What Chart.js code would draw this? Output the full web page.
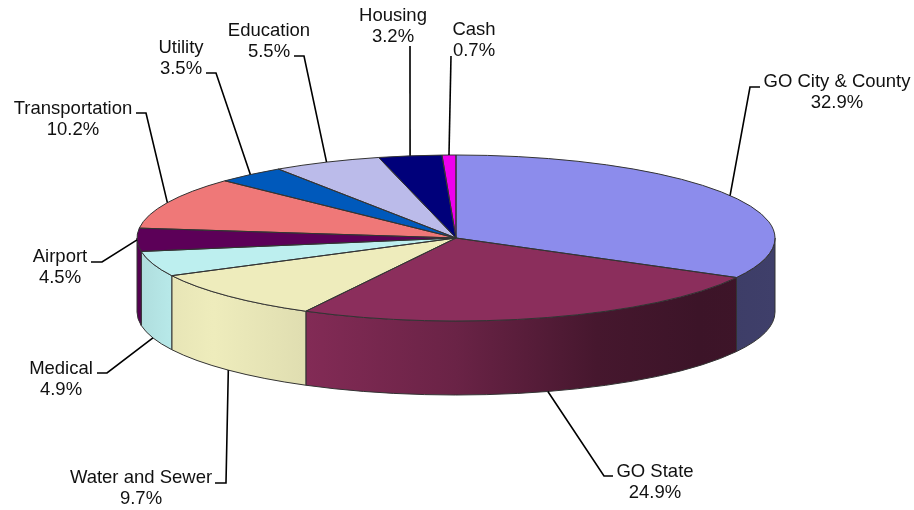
<!DOCTYPE html>
<html>
<head>
<meta charset="utf-8">
<title>Debt by sector</title>
<script src="https://cdn.jsdelivr.net/npm/chart.js@4/dist/chart.umd.min.js"></script>
<style>
  html, body { margin: 0; padding: 0; background: #fff; }
  #box { width: 914px; height: 510px; }
</style>
</head>
<body>
<div id="box"><canvas id="pie" width="914" height="510"></canvas></div>
<script>
const categories = ['GO City & County', 'GO State', 'Water and Sewer', 'Medical', 'Airport',
  'Transportation', 'Utility', 'Education', 'Housing', 'Cash'];
const shares = [32.9, 24.9, 9.7, 4.9, 4.5, 10.2, 3.5, 5.5, 3.2, 0.7];
const colors = ['#8c8cec', '#8b2e5c', '#eeecbc', '#bdefef', '#5c0058',
  '#ef7878', '#0059bb', '#bbbbea', '#00007a', '#ee00ee'];

// looks of the fake 3d: tilt of the disc, wall height, light across the wall
const SQUASH = 83 / 319;
const DEPTH = 74;
const light = [[0, 0.92], [0.05, 0.97], [0.12, 1], [0.26, 0.94], [0.5, 0.76], [0.72, 0.5], [0.88, 0.43], [1, 0.45]];

// elbow(s) and text centre of every leader, in page pixels
const leaders = [
  { elbow: [[750, 87], [760, 87]], text: [837, 82] },
  { elbow: [[604, 476], [613, 476]], text: [655, 472] },
  { elbow: [[226, 483], [215, 483]], text: [141, 478] },
  { elbow: [[107, 373], [97, 373]], text: [61, 369] },
  { elbow: [[102, 262], [91, 262]], text: [60, 257] },
  { elbow: [[146, 113], [136, 113]], text: [73, 109] },
  { elbow: [[216, 73], [206, 73]], text: [181, 48] },
  { elbow: [[304, 56], [294, 56]], text: [269, 31] },
  { elbow: [[410, 46]], text: [393, 16] },
  { elbow: [[451, 56]], text: [474, 30] }
];

function shade(hex, f) {
  const n = parseInt(hex.slice(1), 16);
  const r = Math.round((n >> 16 & 255) * f);
  const g = Math.round((n >> 8 & 255) * f);
  const b = Math.round((n & 255) * f);
  return `rgb(${r},${g},${b})`;
}

function wallPath(ctx, arc, from, to) {
  const ry = arc.outerRadius * SQUASH;
  ctx.beginPath();
  ctx.ellipse(arc.x, arc.y, arc.outerRadius, ry, 0, from, to);
  ctx.ellipse(arc.x, arc.y + DEPTH, arc.outerRadius, ry, 0, to, from, true);
  ctx.closePath();
}

const pie3d = {
  id: 'pie3d',
  beforeDatasetsDraw(chart) {
    const ctx = chart.ctx;
    const arcs = chart.getDatasetMeta(0).data;
    // only the part of a slice facing us has a wall
    arcs.forEach((arc, i) => {
      const from = Math.max(arc.startAngle, 0);
      const to = Math.min(arc.endAngle, Math.PI);
      if (to <= from) return;
      const grad = ctx.createLinearGradient(arc.x - arc.outerRadius, 0, arc.x + arc.outerRadius, 0);
      light.forEach(s => grad.addColorStop(s[0], shade(colors[i], s[1])));
      wallPath(ctx, arc, from, to);
      ctx.fillStyle = grad;
      ctx.fill();
      ctx.strokeStyle = '#333';
      ctx.lineWidth = 1;
      ctx.stroke();
    });
    const c = arcs[0];
    ctx.save();
    ctx.translate(c.x, c.y);
    ctx.scale(1, SQUASH);
    ctx.translate(-c.x, -c.y);
  },
  afterDatasetsDraw(chart) {
    const ctx = chart.ctx;
    ctx.restore();
    const arcs = chart.getDatasetMeta(0).data;
    // outlines go on after the restore, so the pen stays round
    arcs.forEach(arc => {
      ctx.save();
      ctx.translate(arc.x, arc.y);
      ctx.scale(1, SQUASH);
      ctx.beginPath();
      ctx.moveTo(0, 0);
      ctx.arc(0, 0, arc.outerRadius, arc.startAngle, arc.endAngle);
      ctx.closePath();
      ctx.restore();
      ctx.strokeStyle = '#333';
      ctx.lineWidth = 1;
      ctx.stroke();
    });

    ctx.font = '18.5px "Liberation Sans", Arial, sans-serif';
    ctx.textAlign = 'center';
    ctx.textBaseline = 'middle';
    arcs.forEach((arc, i) => {
      const mid = (arc.startAngle + arc.endAngle) / 2;
      const front = Math.sin(mid) > 0.1;
      const ax = arc.x + arc.outerRadius * Math.cos(mid);
      const ay = arc.y + arc.outerRadius * SQUASH * Math.sin(mid) + (front ? DEPTH : 0);
      ctx.beginPath();
      ctx.moveTo(ax, ay);
      leaders[i].elbow.forEach(p => ctx.lineTo(p[0], p[1]));
      ctx.strokeStyle = '#000';
      ctx.lineWidth = 1.6;
      ctx.stroke();
      ctx.fillStyle = '#111';
      const t = leaders[i].text;
      ctx.fillText(categories[i], t[0], t[1]);
      ctx.fillText(shares[i].toFixed(1) + '%', t[0], t[1] + 21);
    });
  }
};

new Chart(document.getElementById('pie'), {
  type: 'pie',
  data: {
    labels: categories,
    datasets: [{
      data: shares,
      backgroundColor: colors,
      borderWidth: 0,
      radius: 319,
      clip: false
    }]
  },
  options: {
    responsive: false,
    animation: false,
    layout: { padding: { right: 2, bottom: 34 } },
    plugins: { legend: { display: false }, tooltip: { enabled: false } }
  },
  plugins: [pie3d]
});
</script>
</body>
</html>
